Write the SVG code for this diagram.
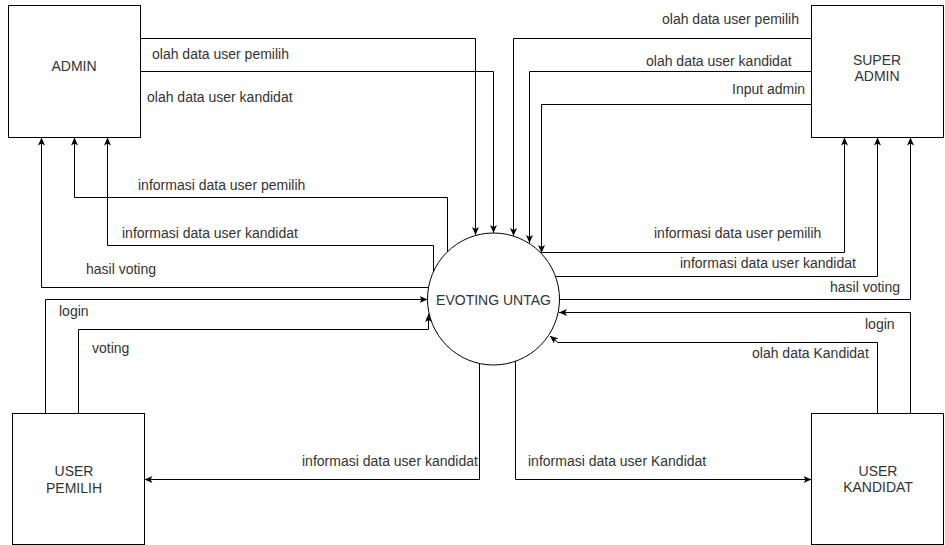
<svg xmlns="http://www.w3.org/2000/svg" width="945" height="545" viewBox="0 0 945 545">
<style>
.box{fill:#fff;stroke:#000;stroke-width:1}
.c{fill:none;stroke:#000;stroke-width:1;marker-end:url(#arr)}
.l{fill:none;stroke:#000;stroke-width:1}
text{font-family:"Liberation Sans",Arial,sans-serif;font-size:14px;fill:#333}
.m{text-anchor:middle}
</style>
<defs>
<marker id="arr" markerUnits="userSpaceOnUse" markerWidth="10" markerHeight="8" refX="8" refY="3.5" orient="auto">
<path d="M0,0 L8,3.5 L0,7 L2,3.5 Z" fill="#000"/>
</marker>
</defs>
<rect width="945" height="545" fill="#fff"/>
<g id="connectors">
<path class="c" d="M140.5,38.5 H475.5 V235"/>
<path class="c" d="M140.5,71.5 H493.5 V233"/>
<path class="c" d="M811.5,38.5 H513.5 V236"/>
<path class="c" d="M811.5,71.5 H529.5 V243"/>
<path class="c" d="M811.5,104.5 H541.5 V253"/>
<path class="c" d="M447.5,252 V197.5 H74.5 V137.5"/>
<path class="c" d="M433.5,275 V245.5 H107.5 V137.5"/>
<path class="c" d="M429,287.5 H41.5 V137.5"/>
<path class="c" d="M45.5,413.5 V299.5 H427.5"/>
<path class="c" d="M78.5,413.5 V329.5 H428.5 V314"/>
<path class="c" d="M540,252.5 H844.5 V137.5"/>
<path class="c" d="M556,276.5 H877.5 V137.5"/>
<path class="c" d="M559.5,299.5 H910.5 V137.5"/>
<path class="c" d="M910.5,413.5 V312.5 H559"/>
<path class="c" d="M877.5,413.5 V342.5 H558 L550,336"/>
<path class="c" d="M479.5,363 V479.5 H144.5"/>
<path class="c" d="M515.5,361 V479.5 H811.5"/>
</g>
<g id="labels">
<text x="152" y="59">olah data user pemilih</text>
<text x="147" y="102">olah data user kandidat</text>
<text x="138" y="190">informasi data user pemilih</text>
<text x="122" y="238">informasi data user kandidat</text>
<text x="86" y="274">hasil voting</text>
<text x="59" y="316">login</text>
<text x="92" y="353">voting</text>
<text x="662" y="24">olah data user pemilih</text>
<text x="646" y="66">olah data user kandidat</text>
<text x="732" y="94">Input admin</text>
<text x="654" y="238">informasi data user pemilih</text>
<text x="680" y="268">informasi data user kandidat</text>
<text x="830" y="292">hasil voting</text>
<text x="865" y="329">login</text>
<text x="752" y="358">olah data Kandidat</text>
<text x="302" y="466">informasi data user kandidat</text>
<text x="528" y="466">informasi data user Kandidat</text>
</g>
<g id="admin">
<rect class="box" x="8.5" y="5.5" width="132" height="132"/>
<text class="m" x="74" y="71">ADMIN</text>
</g>
<g id="super-admin">
<rect class="box" x="811.5" y="5.5" width="132" height="132"/>
<text class="m" x="877" y="65">SUPER</text>
<text class="m" x="877" y="81">ADMIN</text>
</g>
<g id="evoting">
<circle class="box" cx="493.5" cy="299" r="66"/>
<text class="m" x="493.5" y="305">EVOTING UNTAG</text>
</g>
<g id="user-pemilih">
<rect class="box" x="12.5" y="413.5" width="132" height="131"/>
<text class="m" x="74" y="476">USER</text>
<text class="m" x="74" y="493">PEMILIH</text>
</g>
<g id="user-kandidat">
<rect class="box" x="811.5" y="413.5" width="132" height="131"/>
<text class="m" x="878" y="476">USER</text>
<text class="m" x="878" y="492">KANDIDAT</text>
</g>
</svg>
